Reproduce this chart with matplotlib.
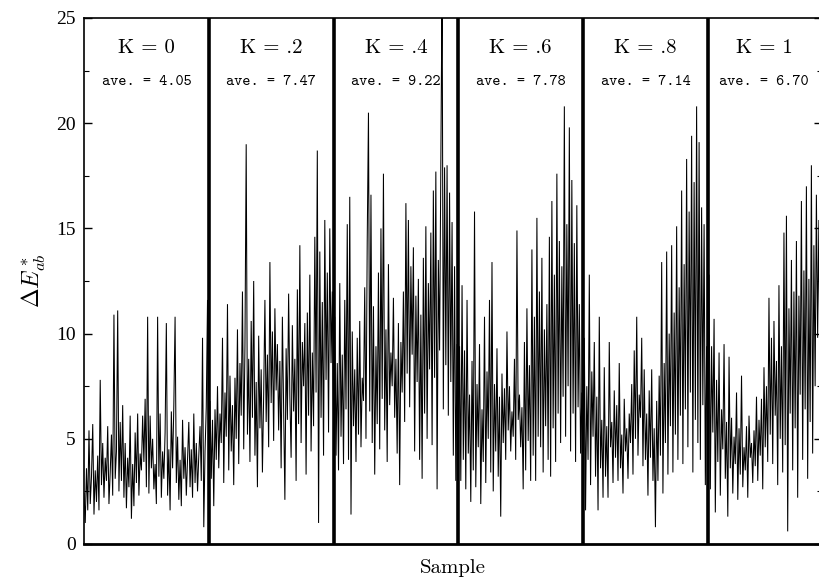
import numpy as np
import matplotlib
matplotlib.use("Agg")
import matplotlib.pyplot as plt

# Colour difference per sample, one block of samples per K setting
k_labels = ["0", ".2", ".4", ".6", ".8", "1"]
averages = ["4.05", "7.47", "9.22", "7.78", "7.14", "6.70"]
samples_per_block = 100
x_max = 591.5

de_k00 = [
    2.4, 1.0, 3.6, 1.6, 5.4, 1.9, 3.2, 5.7, 1.4, 3.5,
    2.0, 4.2, 1.6, 7.8, 2.8, 4.8, 2.2, 4.1, 3.0, 5.6,
    1.9, 3.4, 5.2, 2.3, 10.9, 3.1, 4.4, 11.1, 2.5, 5.8,
    3.0, 6.6, 2.2, 4.8, 1.7, 4.1, 2.7, 6.1, 1.2, 3.8,
    1.8, 5.3, 2.9, 6.2, 2.3, 4.3, 3.5, 6.1, 3.9, 6.9,
    2.7, 10.8, 2.4, 6.1, 3.6, 5.0, 2.6, 3.8, 1.9, 10.8,
    3.2, 6.2, 2.2, 4.4, 3.1, 5.3, 10.5, 2.3, 4.5, 1.6,
    6.3, 3.6, 6.6, 10.8, 2.9, 5.1, 2.1, 4.0, 1.8, 5.9,
    3.1, 4.6, 2.3, 4.0, 5.8, 2.7, 4.5, 2.2, 6.2, 2.9,
    4.8, 2.5, 4.2, 5.6, 3.0, 9.8, 0.8, 4.4, 6.5, 11.6,
]
de_k02 = [
    4.2, 6.8, 3.1, 5.9, 1.8, 6.4, 4.0, 7.5, 3.6, 6.2,
    4.8, 9.8, 2.9, 7.2, 5.1, 11.4, 3.5, 8.0, 4.4, 6.6,
    2.8, 7.9, 5.0, 10.2, 3.8, 8.6, 6.1, 12.0, 4.5, 9.4,
    19.0, 5.2, 8.8, 3.9, 10.6, 6.0, 12.5, 4.2, 7.7, 2.7,
    9.9, 5.5, 8.3, 3.4, 7.1, 11.6, 5.8, 9.0, 4.6, 13.4,
    6.7, 10.1, 4.9, 11.2, 7.3, 9.5, 5.4, 8.7, 3.6, 10.8,
    6.4, 2.1, 9.3, 5.9, 11.9, 7.0, 4.1, 10.4, 6.3, 8.8,
    3.0, 12.1, 5.7, 14.2, 4.8, 9.6, 7.5, 10.5, 3.3, 11.0,
    6.1, 12.8, 4.4, 9.1, 5.6, 14.6, 7.2, 18.7, 1.0, 13.9,
    6.0, 11.5, 4.2, 15.4, 7.8, 12.9, 5.3, 15.0, 8.6, 12.0,
]
de_k04 = [
    6.0, 10.8, 4.2, 8.6, 3.5, 12.4, 5.1, 9.0, 3.8, 11.6,
    6.4, 15.2, 4.0, 16.5, 1.4, 10.1, 5.6, 8.3, 3.9, 9.8,
    5.2, 10.6, 4.6, 7.9, 6.8, 12.2, 5.0, 14.4, 20.5, 6.3,
    16.6, 4.8, 11.3, 3.3, 9.4, 5.7, 12.9, 4.5, 15.0, 6.9,
    17.6, 5.4, 10.2, 3.9, 13.3, 6.6, 9.1, 7.5, 11.7, 6.0,
    8.8, 4.3, 10.5, 2.8, 9.6, 7.2, 12.0, 5.8, 16.2, 8.1,
    15.4, 6.5, 13.2, 9.0, 14.1, 4.4, 11.8, 7.7, 12.6, 4.0,
    10.9, 3.1, 13.6, 6.2, 15.1, 5.0, 12.4, 8.3, 14.8, 4.7,
    16.8, 7.9, 17.7, 2.6, 13.5, 9.2, 18.2, 27.0, 6.4, 17.9,
    8.5, 18.0, 6.1, 16.7, 7.7, 15.3, 4.2, 13.2, 3.0, 9.5,
]
de_k06 = [
    5.0, 9.4, 3.0, 12.3, 4.0, 9.2, 2.6, 11.6, 4.3, 7.1,
    2.0, 8.7, 3.5, 15.8, 2.7, 7.6, 4.6, 9.5, 1.9, 6.4,
    3.9, 10.8, 2.9, 8.2, 5.0, 11.6, 3.4, 13.4, 2.5, 7.6,
    4.4, 9.3, 3.2, 7.0, 1.3, 8.1, 4.8, 7.4, 4.0, 10.1,
    5.4, 7.5, 4.4, 6.3, 5.1, 8.8, 4.0, 14.9, 5.9, 7.1,
    4.6, 6.5, 2.6, 9.6, 3.5, 11.2, 4.9, 8.5, 3.0, 14.0,
    4.2, 10.8, 3.0, 15.5, 5.1, 12.0, 4.6, 13.6, 3.4, 10.2,
    5.6, 11.4, 4.0, 14.6, 3.2, 16.3, 5.5, 12.8, 3.9, 17.6,
    6.2, 14.4, 4.8, 13.2, 7.0, 20.8, 5.1, 15.2, 7.5, 19.8,
    4.4, 17.3, 6.2, 14.3, 3.9, 16.1, 6.5, 11.4, 4.3, 7.2,
]
de_k08 = [
    3.4, 9.8, 1.6, 7.5, 4.0, 12.8, 2.8, 8.2, 5.1, 9.6,
    3.2, 7.0, 1.6, 10.8, 3.6, 5.9, 2.2, 8.4, 3.2, 5.6,
    2.2, 9.6, 4.6, 5.8, 2.9, 7.3, 4.1, 6.6, 3.0, 8.6,
    3.6, 5.2, 2.4, 6.9, 4.4, 5.5, 3.1, 6.2, 4.8, 7.6,
    3.3, 9.2, 5.0, 10.8, 4.2, 7.1, 6.0, 9.8, 3.7, 8.3,
    4.0, 6.2, 2.3, 7.3, 4.1, 8.3, 3.0, 5.5, 0.8, 6.8,
    3.0, 8.0, 4.2, 13.4, 2.4, 8.6, 4.8, 13.9, 3.3, 10.0,
    5.6, 14.2, 3.4, 11.0, 5.2, 15.1, 4.0, 12.2, 6.1, 16.8,
    3.8, 13.3, 6.4, 18.3, 4.6, 15.8, 7.2, 19.4, 3.4, 17.2,
    5.9, 20.8, 4.8, 19.1, 4.0, 16.0, 6.6, 15.2, 2.8, 9.4,
]
de_k10 = [
    4.4, 12.8, 2.6, 9.4, 5.3, 10.7, 1.5, 7.8, 3.9, 9.1,
    2.3, 6.4, 4.5, 9.5, 3.1, 5.8, 1.3, 8.9, 3.6, 6.0,
    2.4, 5.1, 3.8, 7.2, 2.1, 5.5, 3.3, 8.0, 2.7, 4.6,
    3.5, 5.6, 2.2, 6.1, 4.1, 4.8, 2.9, 5.4, 3.7, 7.0,
    3.0, 5.9, 4.2, 6.9, 2.6, 8.4, 4.6, 7.5, 3.9, 11.7,
    5.2, 9.8, 3.8, 10.6, 6.1, 8.7, 2.8, 12.3, 5.0, 9.4,
    3.4, 14.8, 4.7, 15.6, 0.6, 11.2, 6.2, 13.5, 3.5, 12.0,
    5.5, 14.4, 2.2, 11.8, 7.1, 16.3, 4.0, 13.0, 6.4, 17.0,
    3.1, 12.6, 5.8, 18.0, 4.3, 14.2, 7.5, 16.6, 9.8, 15.4,
    6.9, 18.1,
]

blocks = [de_k00, de_k02, de_k04, de_k06, de_k08, de_k10]
values = np.concatenate([np.asarray(b, dtype=float) for b in blocks])
sample = np.arange(len(values))

plt.rcParams["mathtext.fontset"] = "cm"

fig = plt.figure(figsize=(8.2, 5.81), dpi=100)
ax = fig.add_axes([84 / 820, 37 / 581, 738 / 820, 526 / 581])

ax.plot(sample, values, color="black", lw=0.75, solid_joinstyle="miter")

# thick separators between K blocks
for k in range(1, len(blocks)):
    ax.axvline(k * samples_per_block, color="black", lw=2.6)

ax.set_xlim(0, x_max)
ax.set_ylim(0, 25)
ax.set_yticks(np.arange(0, 26, 5))
ax.set_yticks(np.arange(0, 25.1, 2.5), minor=True)
ax.set_xticks([])
ax.tick_params(axis="y", which="both", direction="in", left=True, right=True,
               labelsize=14, pad=6)
ax.tick_params(axis="y", which="major", length=6, width=1)
ax.tick_params(axis="y", which="minor", length=3.5, width=0.8)
for lab in ax.get_yticklabels():
    lab.set_family("Liberation Serif")

ax.spines["bottom"].set_linewidth(2.0)
ax.spines["top"].set_linewidth(1.2)
ax.spines["left"].set_linewidth(1.2)
ax.spines["right"].set_linewidth(1.2)

centers = [50, 150, 250, 350, 450, 545]
for cx, k, a in zip(centers, k_labels, averages):
    ax.text(cx, 23.55, "K = %s" % k, family="cmr10", ha="center",
            va="center", fontsize=15)
    ax.text(cx, 21.95, "ave. = %s" % a, family="cmtt10", ha="center",
            va="center", fontsize=11.2)

ax.set_xlabel("Sample", family="cmr10", fontsize=15, labelpad=11)
ax.set_ylabel(r"$\Delta E^*_{ab}$", fontsize=17, labelpad=6)

fig.savefig("out.png", dpi=100)
